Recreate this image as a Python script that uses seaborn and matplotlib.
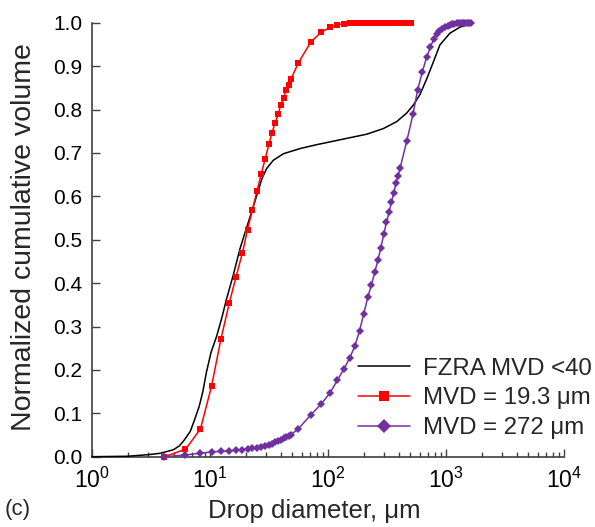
import numpy as np
import matplotlib
matplotlib.use("Agg")
import matplotlib.pyplot as plt
import seaborn as sns
import pandas as pd

# --- data ---
# FZRA MVD <40 (smooth black curve)
fzra_d = [1.0, 2.0, 3.1, 3.8, 4.9, 5.5, 6.0, 6.8, 7.4, 8.1,
          8.7, 9.3, 10.2, 11.4, 12.6, 13.8, 15.8, 17.9, 20.0, 22.9,
          25.1, 27.5, 30.2, 34.4, 41.8, 57.9, 80.2, 111, 153, 212,
          294, 382, 465, 528, 603, 685, 757, 889, 1081, 1315,
          1596, 1700]
fzra_v = [0.0, 0.001, 0.005, 0.008, 0.016, 0.025, 0.037, 0.058, 0.085, 0.116,
          0.15, 0.193, 0.24, 0.278, 0.32, 0.363, 0.42, 0.478, 0.52, 0.57,
          0.605, 0.64, 0.664, 0.683, 0.698, 0.71, 0.719, 0.727, 0.735, 0.743,
          0.756, 0.772, 0.792, 0.81, 0.835, 0.87, 0.9, 0.949, 0.976, 0.99,
          0.997, 1.0]

# MVD = 19.3 um (red squares)
small_d = [4.1, 6.2, 8.3, 10.3, 12.4, 14.6, 16.6, 18.8, 20.8, 22.9,
           25.0, 27.2, 29.4, 31.6, 33.5, 35.6, 37.9, 39.7, 42.1, 44.1,
           46.5, 48.5, 56.0, 71.3, 87.3, 104, 120, 137, 153, 169,
           185, 201, 217, 233, 249, 265, 281, 297, 313, 329,
           345, 361, 377, 393, 409, 425, 441, 457, 473, 489, 505]
small_v = [0.0, 0.017, 0.064, 0.162, 0.272, 0.355, 0.414, 0.469, 0.523, 0.569,
           0.612, 0.652, 0.687, 0.72, 0.746, 0.769, 0.79, 0.81, 0.827, 0.844,
           0.857, 0.87, 0.907, 0.955, 0.978, 0.989, 0.995, 0.998, 0.999, 0.999,
           1.0, 1.0, 1.0, 1.0, 1.0, 1.0, 1.0, 1.0, 1.0, 1.0,
           1.0, 1.0, 1.0, 1.0, 1.0, 1.0, 1.0, 1.0, 1.0, 1.0, 1.0]

# MVD = 272 um (purple diamonds)
large_d = [4.1, 6.2, 8.3, 10.3, 12.4, 14.6, 16.6, 18.8, 20.8, 22.9,
           25.0, 27.2, 29.4, 31.6, 33.5, 35.6, 37.9, 39.7, 42.1, 44.1,
           46.5, 48.5, 56.0, 71.3, 87.3, 104, 120, 137, 153, 169,
           185, 201, 217, 233, 249, 265, 281, 297, 313, 329,
           345, 361, 377, 393, 409, 465, 525, 575, 630, 685,
           736, 785, 832, 880, 930, 980, 1030, 1080, 1130, 1180,
           1230, 1280, 1330, 1380, 1430, 1480, 1530, 1580, 1630]
large_v = [0.0, 0.004, 0.008, 0.011, 0.012, 0.013, 0.015, 0.016, 0.017, 0.019,
           0.021, 0.023, 0.025, 0.028, 0.030, 0.033, 0.036, 0.039, 0.042, 0.045,
           0.048, 0.051, 0.064, 0.096, 0.121, 0.147, 0.176, 0.203, 0.228, 0.255,
           0.29, 0.329, 0.367, 0.395, 0.425, 0.453, 0.482, 0.513, 0.54, 0.563,
           0.587, 0.608, 0.63, 0.647, 0.666, 0.727, 0.789, 0.845, 0.887, 0.92,
           0.943, 0.962, 0.975, 0.981, 0.986, 0.99, 0.993, 0.995, 0.997, 0.998,
           0.999, 1.0, 1.0, 1.0, 1.0, 1.0, 1.0, 1.0, 1.0]

labels = ["FZRA MVD <40", "MVD = 19.3 \u03bcm", "MVD = 272 \u03bcm"]
x_ticks = [1, 10, 100, 1000, 10000]
x_ticklabels = ["10$^{0}$", "10$^{1}$", "10$^{2}$", "10$^{3}$", "10$^{4}$"]
y_ticks = [0.0, 0.1, 0.2, 0.3, 0.4, 0.5, 0.6, 0.7, 0.8, 0.9, 1.0]

# --- style ---
sns.set_theme(style="ticks")
plt.rcParams['font.family'] = ['Liberation Sans', 'DejaVu Sans']
plt.rcParams['mathtext.fontset'] = 'custom'
plt.rcParams['mathtext.rm'] = 'Liberation Sans'
plt.rcParams['mathtext.it'] = 'Liberation Sans'
plt.rcParams['mathtext.default'] = 'rm'

AX_COL = "#404040"
RED = "#ff0000"
PURPLE = "#7030a0"

fig = plt.figure(figsize=(5.95, 5.27), dpi=100)
ax = fig.add_axes([0.1546, 0.1334, 0.7933, 0.8235])

sns.lineplot(x=fzra_d, y=fzra_v, color="black", lw=1.1, sort=False,
             estimator=None, label=labels[0], ax=ax, clip_on=False, zorder=3)
sns.lineplot(x=small_d, y=small_v, color=RED, lw=1.1, marker="s", markersize=4.5,
             markeredgewidth=0, sort=False, estimator=None, label=labels[1],
             ax=ax, clip_on=False, zorder=4)
sns.lineplot(x=large_d, y=large_v, color=PURPLE, lw=1.1, marker="D", markersize=3.9,
             markeredgewidth=0, sort=False, estimator=None, label=labels[2],
             ax=ax, clip_on=False, zorder=5)

ax.set_xscale("log")
ax.set_xlim(1, 1e4)
ax.set_ylim(0, 1.0)
ax.set_xticks(x_ticks)
ax.set_xticklabels(x_ticklabels)
ax.set_yticks(y_ticks)
ax.set_yticklabels([f"{v:.1f}" for v in y_ticks])
ax.xaxis.set_minor_locator(matplotlib.ticker.LogLocator(base=10, subs=np.arange(2, 10)))
ax.xaxis.set_minor_formatter(matplotlib.ticker.NullFormatter())

ax.tick_params(axis="both", which="major", direction="in", length=6, width=1,
               color=AX_COL, labelsize=15, labelcolor="black")
ax.tick_params(axis="x", which="major", pad=8, labelsize=16.5)
ax.tick_params(axis="y", which="major", pad=7)
ax.tick_params(axis="x", which="minor", direction="in", length=3.6, width=1, color=AX_COL)

sns.despine(ax=ax)
for s in ["left", "bottom"]:
    ax.spines[s].set_color(AX_COL)
    ax.spines[s].set_linewidth(1.2)

ax.set_xlabel("Drop diameter, \u03bcm", fontsize=18.5)
ax.set_ylabel("Normalized cumulative volume", fontsize=20.5)
ax.xaxis.set_label_coords(0.472, -0.098)
ax.yaxis.set_label_coords(-0.117, 0.507)

leg = ax.legend(loc="upper left", bbox_to_anchor=(0.5636, 0.228), frameon=False,
                fontsize=17.3, handlelength=2.15, handletextpad=0.55,
                labelspacing=0.32, borderpad=0, borderaxespad=0, markerscale=1.7)

fig.text(0.007, 0.022, "(c)", fontsize=16)

plt.savefig("out.png", dpi=100)
plt.close()
